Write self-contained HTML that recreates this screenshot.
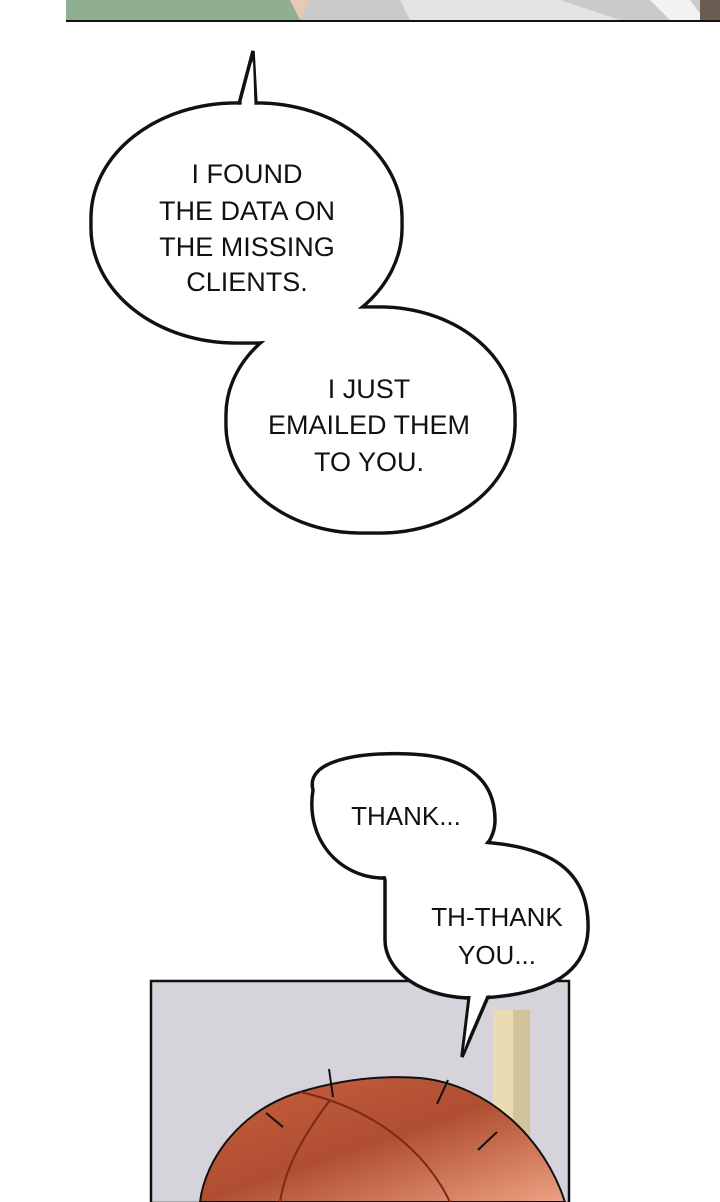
<!DOCTYPE html>
<html><head><style>
html,body{margin:0;padding:0;background:#fff;}
body{width:720px;height:1202px;overflow:hidden;position:relative;}
svg{display:block;}
text{font-family:"Liberation Sans",sans-serif;font-size:27px;fill:#111;text-anchor:middle;}
</style></head><body>
<svg width="720" height="1202" viewBox="0 0 720 1202">
<defs>
<linearGradient id="hair" x1="0" y1="0" x2="1" y2="1">
<stop offset="0" stop-color="#c8603f"/><stop offset="0.5" stop-color="#b04e32"/><stop offset="1" stop-color="#eea283"/>
</linearGradient>
</defs>
<rect x="66" y="0" width="654" height="21" fill="#c9cacc"/>
<rect x="66" y="0" width="235" height="21" fill="#8fae92"/>
<polygon points="290,0 310,0 300,20" fill="#e8c8b8"/>
<polygon points="400,0 560,0 620,20 410,20" fill="#e4e4e6"/>
<polygon points="650,0 690,0 705,20 670,20" fill="#f2f2f2"/>
<rect x="700" y="0" width="20" height="21" fill="#6a5e52"/>
<line x1="66" y1="21" x2="720" y2="21" stroke="#111" stroke-width="2"/>

<rect x="151" y="981" width="418" height="222" fill="#d6d4da" stroke="#111" stroke-width="2.5"/>
<rect x="493" y="1010" width="20" height="192" fill="#eadbb2"/>
<rect x="513" y="1010" width="17" height="192" fill="#d3c39a"/>
<path d="M200,1202 C205,1160 240,1110 300,1092 C340,1080 380,1075 420,1078 C490,1085 545,1140 565,1202 Z" fill="url(#hair)" stroke="#111" stroke-width="2"/>
<path d="M300,1092 C360,1105 420,1140 450,1202" fill="none" stroke="#7a2a1a" stroke-width="2"/>
<path d="M330,1100 C300,1140 285,1170 280,1202" fill="none" stroke="#7a2a1a" stroke-width="2"/>
<line x1="329" y1="1069" x2="333" y2="1097" stroke="#111" stroke-width="2"/>
<line x1="266" y1="1113" x2="283" y2="1127" stroke="#111" stroke-width="2"/>
<line x1="448" y1="1080" x2="437" y2="1104" stroke="#111" stroke-width="2"/>
<line x1="497" y1="1132" x2="478" y2="1150" stroke="#111" stroke-width="2"/>

<g stroke="#111" stroke-width="3.5" fill="#fff">
<rect x="91" y="103" width="311" height="240" rx="145" ry="115"/>
<rect x="226" y="307" width="289" height="226" rx="135" ry="108"/>
<polygon points="239,104 253,51 256,104"/>
<path d="M313,790 C305,760 360,752 410,754 C460,756 495,775 495,820 C495,860 440,880 380,878 C340,876 305,840 313,790 Z"/>
<path d="M385,880 C375,850 420,840 480,842 C550,846 590,870 588,930 C586,975 545,995 480,998 C420,1000 385,970 385,940 Z"/>
<polygon points="470,990 462,1057 490,992"/>
</g>
<g fill="#fff">
<rect x="92.8" y="104.8" width="307.4" height="236.4" rx="143" ry="113"/>
<rect x="227.8" y="308.8" width="285.4" height="222.4" rx="133" ry="106"/>
<polygon points="241,106 253,60 254.5,106"/>
<path d="M315,790 C307,762 360,754 410,756 C459,758 493,776 493,820 C493,858 440,878 380,876 C341,874 307,840 315,790 Z"/>
<path d="M387,880 C377,852 420,842 480,844 C549,848 588,871 586,930 C584,973 545,993 480,996 C421,998 387,969 387,940 Z"/>
<polygon points="472,985 464,1050 487,985"/>
</g>

<text x="247" y="183">I FOUND</text>
<text x="247" y="220">THE DATA ON</text>
<text x="247" y="256">THE MISSING</text>
<text x="247" y="291">CLIENTS.</text>
<text x="369" y="398">I JUST</text>
<text x="369" y="434">EMAILED THEM</text>
<text x="369" y="471">TO YOU.</text>
<text x="406" y="825" style="font-size:26px">THANK...</text>
<text x="497" y="926" style="font-size:26px">TH-THANK</text>
<text x="497" y="964" style="font-size:26px">YOU...</text>
</svg>
</body></html>
